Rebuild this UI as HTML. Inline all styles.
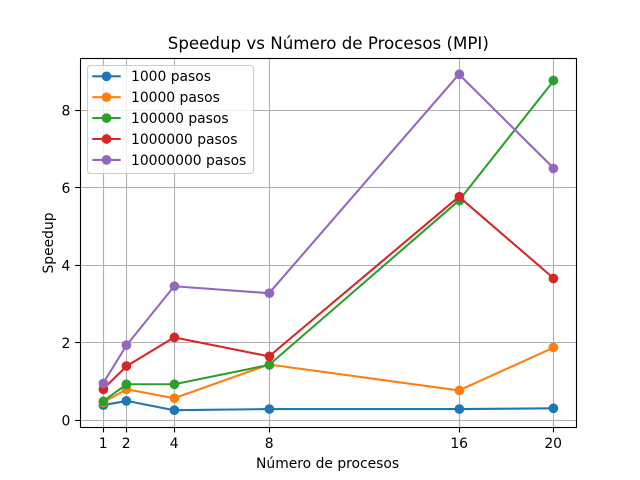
<!DOCTYPE html>
<html lang="es">
<head>
<meta charset="utf-8">
<title>Speedup vs Número de Procesos (MPI)</title>
<style>
  html, body { margin: 0; padding: 0; background: #fff; width: 640px; height: 480px; overflow: hidden; }
  svg { display: block; }
  text { font-family: "DejaVu Sans", "Liberation Sans", sans-serif; fill: #000; }
</style>
</head>
<body>
<svg id="chart" xmlns="http://www.w3.org/2000/svg" width="640" height="480" viewBox="0 0 640 480">
  <rect x="0" y="0" width="640" height="480" fill="#ffffff"></rect>
  <rect x="80" y="57.6" width="496" height="369.6" fill="#ffffff"></rect>
  <g id="grid"></g>
  <g id="series"></g>
  <rect x="80.5" y="58.5" width="496" height="369" fill="none" stroke="#000" stroke-width="1.11"></rect>
  <g id="ticks"></g>
  <text x="328.3" y="49" font-size="16.67" text-anchor="middle">Speedup vs Número de Procesos (MPI)</text>
  <text x="327.6" y="468" font-size="13.89" text-anchor="middle">Número de procesos</text>
  <text x="0" y="0" font-size="13.89" text-anchor="middle" transform="translate(53,243) rotate(-90)">Speedup</text>
  <g id="legend"></g>
</svg>
<script>
const categories = [1, 2, 4, 8, 16, 20];
const xTickLabels = [1, 2, 4, 8, 16, 20];
const yTickLabels = [0, 2, 4, 6, 8];
const seriesNames = ["1000 pasos", "10000 pasos", "100000 pasos", "1000000 pasos", "10000000 pasos"];
const seriesColors = ["#1f77b4", "#ff7f0e", "#2ca02c", "#d62728", "#9467bd"];
const pasos1000 = [0.39, 0.50, 0.26, 0.29, 0.29, 0.31];
const pasos10000 = [0.46, 0.80, 0.57, 1.44, 0.77, 1.88];
const pasos100000 = [0.49, 0.93, 0.93, 1.43, 5.67, 8.77];
const pasos1000000 = [0.80, 1.40, 2.14, 1.65, 5.77, 3.66];
const pasos10000000 = [0.95, 1.94, 3.46, 3.28, 8.93, 6.50];
const allSeries = [pasos1000, pasos10000, pasos100000, pasos1000000, pasos10000000];

const NS = "http://www.w3.org/2000/svg";
const plotLeft = 80, plotRight = 576, plotTop = 57.6, plotBottom = 427.2;
const xDomainMin = 0.05, xDomainMax = 20.95;
const yDomainMin = -0.178, yDomainMax = 9.36;

function xScale(v) {
  return plotLeft + (v - xDomainMin) / (xDomainMax - xDomainMin) * (plotRight - plotLeft);
}
function yScale(v) {
  return plotBottom - (v - yDomainMin) / (yDomainMax - yDomainMin) * (plotBottom - plotTop);
}
function snapX(p) {
  return Math.round(p) + 0.5;
}
function snapY(p) {
  return Math.floor(p) + 0.5;
}
function make(tag, attrs, parent) {
  const el = document.createElementNS(NS, tag);
  for (const k in attrs) el.setAttribute(k, attrs[k]);
  parent.appendChild(el);
  return el;
}

const gridG = document.getElementById("grid");
const ticksG = document.getElementById("ticks");
const seriesG = document.getElementById("series");
const legendG = document.getElementById("legend");

xTickLabels.forEach(function (t) {
  const x = snapX(xScale(t));
  const g = make("line", { x1: x, x2: x, y1: plotTop, y2: plotBottom, stroke: "#b0b0b0", "stroke-width": 1.11 }, gridG);
  
  
  const m = make("line", { x1: x, x2: x, y1: plotBottom + 0.3, y2: plotBottom + 5.2, stroke: "#000", "stroke-width": 1.11 }, ticksG);
  
  
  const l = make("text", { x: x - 0.3, y: 448, "font-size": 13.89, "text-anchor": "middle" }, ticksG);
  
  
  l.textContent = t;
});

yTickLabels.forEach(function (t) {
  const y = snapY(yScale(t));
  const g = make("line", { x1: plotLeft, x2: plotRight, y1: y, y2: y, stroke: "#b0b0b0", "stroke-width": 1.11 }, gridG);
  
  
  const m = make("line", { x1: plotLeft - 4.86, x2: plotLeft, y1: y, y2: y, stroke: "#000", "stroke-width": 1.11 }, ticksG);
  
  
  const l = make("text", { x: 70.3, y: yScale(t) + 5.2, "font-size": 13.89, "text-anchor": "end" }, ticksG);
  
  
  l.textContent = t;
});

allSeries.forEach(function (values, i) {
  const color = seriesColors[i];
  const pts = values.map(function (v, j) { return (xScale(categories[j]) + 0.4) + "," + yScale(v); }).join(" ");
  const line = make("polyline", { points: pts, fill: "none", stroke: color, "stroke-width": 2.08, "stroke-linejoin": "round" }, seriesG);
  
  
  values.forEach(function (v, j) {
    const c = make("circle", { cx: snapX(xScale(categories[j])) - 0.1, cy: yScale(v), r: 4.86, fill: color }, seriesG);
    
    
  });
});

const box = make("rect", { x: 87.5, y: 65.5, width: 166, height: 108, rx: 3, ry: 3, fill: "#ffffff", "fill-opacity": 0.8, stroke: "#cccccc", "stroke-width": 1.11 }, legendG);


seriesNames.forEach(function (name, i) {
  const y = 76.3 + i * 20.9;
  const line = make("line", { x1: 92.3, x2: 120.7, y1: y, y2: y, stroke: seriesColors[i], "stroke-width": 2.08 }, legendG);
  
  
  const dot = make("circle", { cx: 106.5, cy: y, r: 4.86, fill: seriesColors[i] }, legendG);
  
  
  const label = make("text", { x: 131, y: y + 4.9, "font-size": 13.89 }, legendG);
  
  
  label.textContent = name;
});
</script>
</body>
</html>
